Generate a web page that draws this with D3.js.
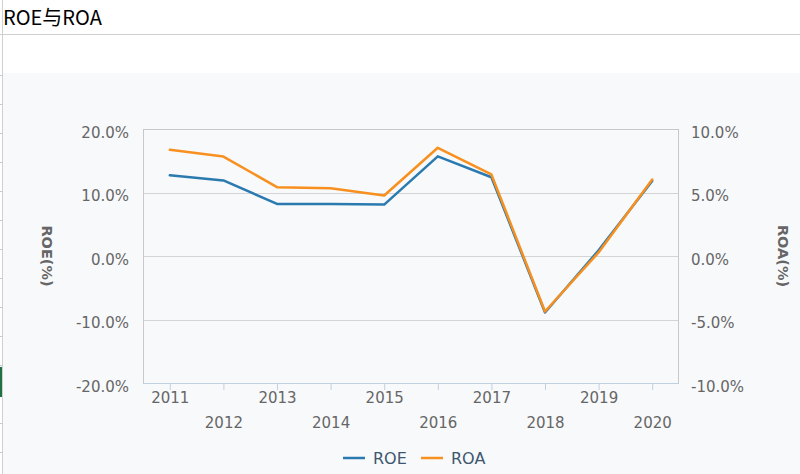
<!DOCTYPE html>
<html><head><meta charset="utf-8">
<script src="https://cdn.jsdelivr.net/npm/d3@7"></script>
<style>html,body{margin:0;padding:0;background:#fff;}svg{display:block;}</style>
</head><body>
<script>
const years = ["2011","2012","2013","2014","2015","2016","2017","2018","2019","2020"];
const roe = [12.7, 11.9, 8.2, 8.2, 8.1, 15.7, 12.4, -8.9, 0.9, 11.8];
const roa = [8.36, 7.83, 5.42, 5.34, 4.76, 8.52, 6.42, -4.37, 0.28, 6.02];
const leftTicks = [-20, -10, 0, 10, 20];
const rightTicks = [-10, -5, 0, 5, 10];
const seriesNames = ["ROE", "ROA"];
const colors = ["#2a7ab0", "#f7901e"];

const W = 800, H = 474;
const svg = d3.select("body").append("svg").attr("width", W).attr("height", H);

// page background
svg.append("rect").attr("x",0).attr("y",0).attr("width",W).attr("height",H).attr("fill","#fff");
svg.append("rect").attr("x",3).attr("y",73).attr("width",W-3).attr("height",H-73).attr("fill","#f8f9fb");
// spreadsheet-like frame
svg.append("line").attr("x1",0).attr("x2",W).attr("y1",34.5).attr("y2",34.5).attr("stroke","#cfcfcf");
svg.append("line").attr("x1",2.5).attr("x2",2.5).attr("y1",0).attr("y2",H).attr("stroke","#d0d0d0");
d3.range(75, 470, 29).forEach(y => {
  svg.append("line").attr("x1",0).attr("x2",2).attr("y1",y+0.5).attr("y2",y+0.5).attr("stroke","#c8c8c8");
});
svg.append("rect").attr("x",0).attr("y",367).attr("width",2).attr("height",30).attr("fill","#1e7145");

svg.append("text").attr("x",3).attr("y",25).text("ROE与ROA")
  .attr("font-family","'Noto Sans CJK SC', 'Noto Sans', sans-serif").attr("font-size",20).attr("fill","#000");

const pl = 143, pr = 679, pt = 129, pb = 383;
const x = d3.scalePoint().domain(years).range([pl, pr]).padding(0.5);
const yL = d3.scaleLinear().domain([-20, 20]).range([pb, pt]);
const yR = d3.scaleLinear().domain([-10, 10]).range([pb, pt]);

const font = "'DejaVu Sans', Verdana, sans-serif";
const fs = 15;

// grid
const g = svg.append("g");
g.selectAll("line.grid").data(leftTicks).enter().append("line")
  .attr("x1", pl).attr("x2", pr)
  .attr("y1", d => Math.round(yL(d)) + 0.5).attr("y2", d => Math.round(yL(d)) + 0.5)
  .attr("stroke", "#d4d4d4").attr("stroke-width", 1);
// plot border
g.append("rect").attr("x", pl+0.5).attr("y", pt+0.5).attr("width", pr-pl-1).attr("height", pb-pt)
  .attr("fill","none").attr("stroke","#c8c8c8");

// left axis labels
const axL = d3.axisLeft(yL).tickValues(leftTicks).tickSize(0).tickPadding(14).tickFormat(d => d.toFixed(1) + "%");
const gL = svg.append("g").attr("transform", `translate(${pl},0)`).call(axL);
gL.select(".domain").remove();
gL.selectAll("text").attr("font-family", font).attr("font-size", fs).attr("fill", "#666").attr("dy", "0.55em");

const axR = d3.axisRight(yR).tickValues(rightTicks).tickSize(0).tickPadding(12).tickFormat(d => d.toFixed(1) + "%");
const gR = svg.append("g").attr("transform", `translate(${pr},0)`).call(axR);
gR.select(".domain").remove();
gR.selectAll("text").attr("font-family", font).attr("font-size", fs).attr("fill", "#666").attr("dy", "0.55em");

// x axis
const axX = d3.axisBottom(x).tickSize(7).tickPadding(0);
const gX = svg.append("g").attr("transform", `translate(0,${pb})`).call(axX);
gX.select(".domain").attr("stroke", "#c0d0e0").attr("d", `M${pl},0.5H${pr}`);
gX.selectAll(".tick line").attr("stroke", "#c0d0e0");
gX.selectAll(".tick text").attr("font-family", font).attr("font-size", fs).attr("fill", "#666")
  .attr("dy", null)
  .attr("y", (d, i) => i % 2 === 0 ? 20 : 45);

// axis titles
svg.append("text").attr("transform", "translate(42,256) rotate(90)").attr("text-anchor","middle")
  .attr("font-family", font).attr("font-size", 14.5).attr("font-weight","bold").attr("fill","#666").text("ROE(%)");
svg.append("text").attr("transform", "translate(778,256) rotate(90)").attr("text-anchor","middle")
  .attr("font-family", font).attr("font-size", 14.5).attr("font-weight","bold").attr("fill","#666").text("ROA(%)");

// lines
const lineL = d3.line().x((d, i) => x(years[i])).y(d => yL(d));
const lineR = d3.line().x((d, i) => x(years[i])).y(d => yR(d));
svg.append("path").attr("d", lineL(roe)).attr("fill","none").attr("stroke", colors[0])
  .attr("stroke-width", 2.5).attr("stroke-linejoin","round").attr("stroke-linecap","round");
svg.append("path").attr("d", lineR(roa)).attr("fill","none").attr("stroke", colors[1])
  .attr("stroke-width", 2.5).attr("stroke-linejoin","round").attr("stroke-linecap","round");

// legend
const leg = svg.append("g").attr("transform", "translate(343,458)");
const legX = [0, 78];
seriesNames.forEach((n, i) => {
  const lg = leg.append("g").attr("transform", `translate(${legX[i]},0)`);
  lg.append("line").attr("x1",0).attr("x2",22).attr("y1",0).attr("y2",0).attr("stroke",colors[i]).attr("stroke-width",2.5);
  lg.append("text").attr("x",30).attr("y",6).text(n).attr("font-family", font).attr("font-size",16).attr("fill","#3e576f");
});
</script>
</body></html>
